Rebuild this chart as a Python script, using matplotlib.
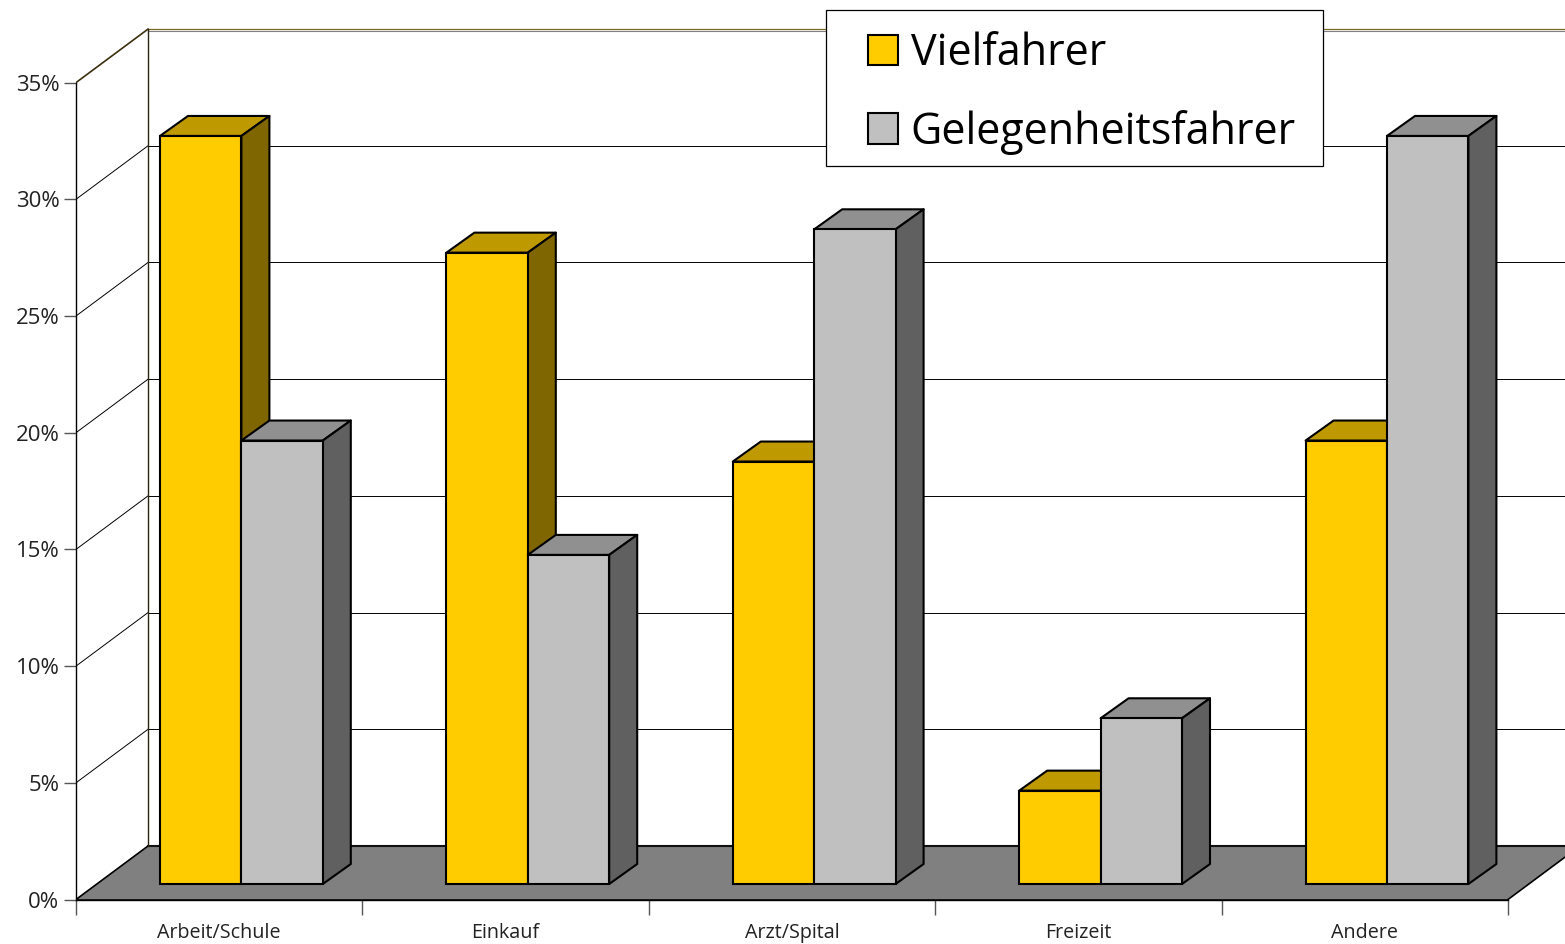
import matplotlib
matplotlib.use('Agg')
from matplotlib import pyplot as plt
from matplotlib.patches import Patch, Polygon, Rectangle

plt.rcParams['font.family'] = ['Open Sans', 'DejaVu Sans']

categories = ['Arbeit/Schule', 'Einkauf', 'Arzt/Spital', 'Freizeit', 'Andere']
vielfahrer = [32.05, 27.05, 18.1, 4, 19]
gelegenheitsfahrer = [19, 14.1, 28.05, 7.1, 32.05]
y_ticks = [0, 5, 10, 15, 20, 25, 30, 35]
y_tick_labels = ['0%', '5%', '10%', '15%', '20%', '25%', '30%', '35%']

# colours: front, top, side
yellow = ('#ffcc00', '#bf9900', '#806600')
grey = ('#c0c0c0', '#909090', '#606060')

# scale of the axes in pixels per unit
px_x = 286.4
px_y = 23.34
fig_w, fig_h = 1565, 944
x0, y0 = 76, 899.5

# depth of the floor and of each bar
wall_dx, wall_dy = 72 / px_x, 53.5 / px_y
bar_dx, bar_dy = 28 / px_x, 20 / px_y
bar_w = 81.4 / px_x
bar_left = 84 / px_x
bar_bottom = 15.5 / px_y


def draw_bar(ax, left, value, colors, z):
    top = bar_bottom + value
    right = left + bar_w
    ax.bar(left, value, width=bar_w, bottom=bar_bottom, align='edge', color=colors[0],
           edgecolor='k', linewidth=1.5, zorder=z + 0.2)
    ax.add_patch(Polygon([(left, top), (right, top), (right + bar_dx, top + bar_dy), (left + bar_dx, top + bar_dy)],
                         facecolor=colors[1], edgecolor='k', linewidth=1.5, joinstyle='round', zorder=z))
    ax.add_patch(Polygon([(right, bar_bottom), (right + bar_dx, bar_bottom + bar_dy), (right + bar_dx, top + bar_dy),
                          (right, top)],
                         facecolor=colors[2], edgecolor='k', linewidth=1.5, joinstyle='round', zorder=z))


fig = plt.figure(figsize=(fig_w / 100, fig_h / 100), dpi=100)
ax = fig.add_axes([x0 / fig_w, (fig_h - y0) / fig_h, (fig_w - x0) / fig_w, (y0 - 5) / fig_h])
ax.set_xlim(0, (fig_w - x0) / px_x)
ax.set_ylim(0, (y0 - 5) / px_y)

# floor and back wall
n = len(categories)
ax.add_patch(Polygon([(0, 0), (n, 0), (n + wall_dx, wall_dy), (wall_dx, wall_dy)], facecolor='#808080',
                     edgecolor='none', zorder=1))
ax.plot([0, n], [0, 0], color='k', lw=1.2, zorder=1.5)
ax.plot([wall_dx, n + wall_dx], [wall_dy, wall_dy], color='#111111', lw=1.5, zorder=1.5)
ax.plot([0, wall_dx], [0, wall_dy], color='k', lw=1.2, zorder=1.5)
ax.plot([n, n + wall_dx], [0, wall_dy], color='k', lw=1.2, zorder=1.5)
ax.plot([wall_dx, wall_dx], [wall_dy, 35 + wall_dy], color='#2a2410', lw=1.0, zorder=1.5)

for t in y_ticks[1:]:
    back = t + wall_dy
    if t == 35:
        ax.plot([wall_dx, n + wall_dx], [back, back], color='#7a6a20', lw=0.9, zorder=1.3)
        ax.plot([wall_dx, n + wall_dx], [back - 0.06, back - 0.06], color='#808080', lw=0.8, zorder=1.2)
        ax.plot([0, wall_dx], [t, back], color='#3a3010', lw=1.2, zorder=1.2)
    else:
        ax.plot([wall_dx, n + wall_dx], [back, back], color='k', lw=0.7, zorder=1.2)
        ax.plot([0, wall_dx], [t, back], color='k', lw=0.7, zorder=1.2)

for i in range(n):
    draw_bar(ax, i + bar_left, vielfahrer[i], yellow, 2 + i)
    draw_bar(ax, i + bar_left + bar_w, gelegenheitsfahrer[i], grey, 2.5 + i)

for side in ['top', 'right']:
    ax.spines[side].set_visible(False)
ax.spines['left'].set_bounds(0, 35)
ax.spines['bottom'].set_bounds(0, n)
ax.spines['left'].set_linewidth(1.0)
ax.spines['bottom'].set_linewidth(1.0)

ax.set_yticks(y_ticks)
ax.set_yticklabels(y_tick_labels, fontsize=16, color='#222222')
ax.tick_params(axis='y', length=9, width=1.0, color='#555555', pad=3)
ax.set_xticks(range(n + 1))
ax.set_xticklabels([])
ax.tick_params(axis='x', which='major', length=10.5, width=1.0, color='#555555')
ax.set_xticks([i + 0.5 for i in range(n)], minor=True)
ax.set_xticklabels(categories, minor=True, fontsize=14.2, color='#222222', va='baseline')
ax.tick_params(axis='x', which='minor', length=0, pad=28)

# legend box is a plain rectangle, the entries sit inside it with their own padding
fig.add_artist(Rectangle((826 / fig_w, 1 - 166 / fig_h), 497 / fig_w, 156 / fig_h, transform=fig.transFigure,
                         facecolor='w', edgecolor='k', linewidth=0.9, zorder=10))
handles = [Patch(facecolor=yellow[0], edgecolor='k', linewidth=1.5, label='Vielfahrer'),
           Patch(facecolor=grey[0], edgecolor='k', linewidth=1.5, label='Gelegenheitsfahrer')]
leg = fig.legend(handles=handles, loc='upper left', bbox_to_anchor=(868 / fig_w, 1 - 31.5 / fig_h),
                 borderaxespad=0, frameon=False, fontsize=31,
                 handlelength=0.7, handleheight=0.7, handletextpad=0.29, labelspacing=0.78, borderpad=0)
leg.set_zorder(20)

fig.savefig('out.png', dpi=100)
